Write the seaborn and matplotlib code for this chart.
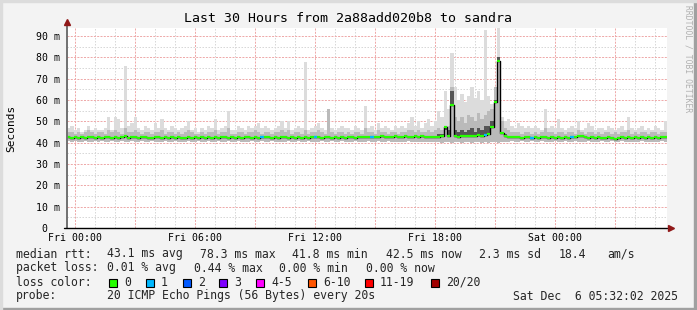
import numpy as np
import pandas as pd
import matplotlib
matplotlib.use("Agg")
import matplotlib.pyplot as plt
from matplotlib.patches import Rectangle
from matplotlib.lines import Line2D
import seaborn as sns

W, H, DPI = 697, 310, 100

# ---- data (10-minute bins, hours relative to Fri 00:00) ----
t_start = -0.4
bin_hours = 1 / 6

median_ms = [
    42.5, 42.3, 42.8, 42.4, 42.6, 42.2, 42.7, 42.5, 42.3, 42.6,
    42.4, 42.8, 42.5, 42.2, 42.6, 42.4, 42.7, 42.9, 42.3, 42.5,
    42.6, 42.3, 42.5, 42.8, 42.2, 42.4, 42.6, 42.5, 42.3, 42.7,
    42.4, 42.6, 42.2, 42.5, 42.1, 42.4, 42.6, 42.3, 42.5, 42.4,
    42.6, 42.3, 42.5, 42.4, 42.7, 42.2, 42.5, 42.6, 42.3, 42.5,
    42.4, 42.6, 42.3, 42.5, 42.7, 42.4, 42.6, 42.3, 42.5, 42.8,
    42.5, 42.3, 42.6, 42.4, 42.5, 42.7, 42.3, 42.5, 42.4, 42.6,
    42.4, 42.6, 42.3, 42.5, 42.8, 42.6, 42.4, 42.5, 42.7, 42.3,
    42.5, 42.4, 42.6, 42.3, 42.5, 42.7, 42.4, 42.6, 42.5, 42.8,
    42.6, 42.8, 42.5, 42.7, 42.9, 42.6, 42.8, 42.7, 43.0, 42.8,
    42.7, 42.9, 42.6, 42.8, 43.0, 42.7, 42.9, 42.6, 42.8, 42.7,
    42.5, 42.6, 42.9, 47.5, 43.0, 57.7, 43.1, 42.8, 43.0, 43.2,
    42.9, 43.3, 43.0, 43.5, 43.2, 43.4, 44.0, 47.5, 59.0, 78.3,
    44.5, 42.9, 42.6, 42.8, 42.5, 42.7, 42.4, 42.6, 42.5, 42.3,
    42.6, 42.4, 42.5, 42.7, 42.3, 42.6, 42.4, 42.5, 42.3, 42.6,
    42.4, 42.6, 42.5, 43.2, 43.0, 42.6, 42.4, 42.5, 42.3, 42.6,
    42.4, 42.2, 42.5, 42.3, 41.8, 42.4, 42.6, 42.3, 42.5, 42.4,
    42.6, 42.3, 42.5, 42.4, 42.6, 42.3, 42.5, 42.4, 42.6, 42.5,
]

smoke_hi = [
    47, 48, 46, 47, 45, 46, 48, 46, 47, 46,
    46, 47, 52, 46, 52, 51, 47, 76, 48, 49,
    52, 47, 46, 48, 47, 46, 49, 47, 51, 47,
    46, 48, 47, 46, 47, 48, 50, 46, 47, 45,
    47, 46, 48, 47, 51, 46, 47, 48, 55, 46,
    46, 48, 47, 46, 48, 47, 48, 49, 47, 48,
    47, 46, 47, 48, 50, 47, 50, 46, 47, 48,
    47, 78, 46, 47, 48, 49, 47, 46, 56, 47,
    46, 47, 48, 47, 47, 46, 48, 47, 46, 57,
    47, 48, 46, 49, 47, 48, 47, 46, 48, 47,
    48, 47, 49, 52, 48, 50, 47, 49, 51, 48,
    50, 55, 52, 64, 56, 82, 66, 60, 63, 59,
    62, 66, 61, 64, 60, 93, 62, 58, 60, 95,
    52, 50, 51, 48, 47, 49, 48, 47, 48, 47,
    48, 47, 46, 56, 47, 48, 47, 51, 47, 46,
    47, 48, 47, 50, 46, 47, 49, 48, 46, 47,
    47, 46, 48, 47, 46, 47, 48, 46, 52, 47,
    46, 47, 48, 46, 47, 46, 48, 47, 46, 50,
]

smoke_mid = [
    45, 45, 44, 45, 44, 45, 46, 45, 44, 45,
    45, 44, 46, 45, 46, 45, 44, 47, 45, 45,
    46, 45, 44, 45, 45, 44, 45, 45, 46, 44,
    45, 45, 44, 45, 44, 45, 46, 45, 44, 44,
    45, 44, 45, 45, 46, 44, 45, 45, 47, 44,
    44, 45, 45, 44, 45, 45, 46, 45, 44, 45,
    45, 44, 45, 45, 46, 45, 46, 44, 45, 45,
    44, 46, 44, 45, 45, 46, 45, 44, 56, 45,
    44, 45, 45, 44, 45, 44, 45, 45, 44, 47,
    45, 45, 44, 46, 45, 45, 44, 45, 45, 44,
    45, 45, 46, 46, 45, 46, 45, 45, 46, 45,
    46, 47, 46, 47, 48, 66, 52, 50, 52, 49,
    53, 52, 50, 54, 51, 53, 55, 56, 66, 80,
    50, 47, 46, 45, 45, 45, 44, 45, 45, 44,
    45, 44, 45, 47, 45, 45, 44, 45, 45, 44,
    45, 45, 44, 46, 45, 44, 45, 45, 44, 45,
    44, 45, 45, 44, 45, 44, 45, 45, 46, 44,
    45, 44, 45, 45, 44, 45, 45, 44, 45, 45,
]

smoke_lo = [
    40.6, 40.4, 40.7, 40.5, 40.3, 40.6, 40.5, 40.4, 40.7, 40.5,
    40.6, 40.3, 40.5, 40.6, 40.4, 40.5, 40.7, 40.4, 40.5, 40.6,
    40.3, 40.5, 40.6, 40.4, 40.5, 40.6, 40.4, 40.5, 40.3, 40.6,
    40.5, 40.4, 40.6, 40.5, 40.3, 40.4, 40.6, 40.5, 40.4, 40.6,
    40.5, 40.3, 40.6, 40.4, 40.5, 40.7, 40.4, 40.5, 40.6, 40.4,
    40.5, 40.6, 40.4, 40.3, 40.5, 40.6, 40.4, 40.5, 40.7, 40.5,
    40.4, 40.6, 40.5, 40.3, 40.5, 40.4, 40.6, 40.5, 40.4, 40.6,
    40.5, 40.4, 40.6, 40.5, 40.3, 40.5, 40.6, 40.4, 40.5, 40.6,
    40.4, 40.5, 40.6, 40.4, 40.5, 40.3, 40.6, 40.5, 40.4, 40.5,
    40.6, 40.5, 40.4, 40.6, 40.5, 40.4, 40.6, 40.5, 40.3, 40.5,
    40.4, 40.5, 40.6, 40.4, 40.5, 40.3, 40.4, 40.5, 40.3, 40.2,
    40.1, 40.2, 40.0, 40.1, 40.2, 40.0, 40.1, 40.2, 40.0, 40.1,
    40.2, 40.0, 40.1, 40.2, 40.0, 40.1, 40.0, 40.2, 40.1, 40.0,
    40.3, 40.4, 40.5, 40.6, 40.4, 40.5, 40.6, 40.4, 40.5, 40.6,
    40.5, 40.4, 40.6, 40.5, 40.3, 40.5, 40.6, 40.4, 40.5, 40.6,
    40.4, 40.5, 40.6, 40.4, 40.5, 40.3, 40.6, 40.5, 40.4, 40.5,
    40.6, 40.5, 40.4, 40.6, 40.5, 40.4, 40.6, 40.5, 40.3, 40.5,
    40.4, 40.5, 40.6, 40.4, 40.5, 40.3, 40.4, 40.5, 40.6, 40.5,
]

core_first_bin = 110
smoke_core = [
    43, 44, 44, 46, 46, 64, 46, 45, 46, 45,
    46, 47, 45, 47, 46, 48, 48, 50, 60, 80,
    45, 44, 43, 43,
]

loss1_bins = [58, 74, 91, 125, 139, 151]

y_ticks = [0, 10, 20, 30, 40, 50, 60, 70, 80, 90]
y_labels = ["0  ", "10 m", "20 m", "30 m", "40 m", "50 m", "60 m", "70 m", "80 m", "90 m"]
x_ticks = [0, 6, 12, 18, 24]
x_labels = ["Fri 00:00", "Fri 06:00", "Fri 12:00", "Fri 18:00", "Sat 00:00"]

title = "Last 30 Hours from 2a88add020b8 to sandra"

loss_names = ["0", "1", "2", "3", "4-5", "6-10", "11-19", "20/20"]
loss_colors = ["#26ff00", "#00b8ff", "#0059ff", "#7e00ff", "#ff00ff",
               "#ff5500", "#ff0000", "#a10000"]
loss_label_px = [124, 161, 198, 234, 271, 323, 380, 446]

row_rtt = [(16, "median rtt:"), (107, "43.1 ms avg"), (200, "78.3 ms max"),
           (292, "41.8 ms min"), (386, "42.5 ms now"), (479, "2.3 ms sd"),
           (559, "18.4"), (607, "am/s")]
row_loss = [(16, "packet loss:"), (107, "0.01 % avg"), (194, "0.44 % max"),
            (279, "0.00 % min"), (366, "0.00 % now")]
row_probe = [(16, "probe:"), (107, "20 ICMP Echo Pings (56 Bytes) every 20s"),
             (513, "Sat Dec  6 05:32:02 2025")]

# ---- style ----
sns.set_style("white")
plt.rcParams["font.family"] = ["DejaVu Sans Mono"]

BG = "#f3f3f3"
fig = plt.figure(figsize=(W / DPI, H / DPI), dpi=DPI, facecolor=BG)

def fx(px):
    return px / W

def fy(py):
    return 1 - py / H

# frame
fig.patches.append(Rectangle((0, 0), 1, 2 / H, transform=fig.transFigure,
                             color="#a0a0a0", zorder=0))
fig.patches.append(Rectangle((1 - 3 / W, 0), 3 / W, 1, transform=fig.transFigure,
                             color="#a0a0a0", zorder=0))
fig.patches.append(Rectangle((0, 1 - 2 / H), 1, 2 / H, transform=fig.transFigure,
                             color="#dcdcdc", zorder=0))
fig.patches.append(Rectangle((0, 0), 2 / W, 1, transform=fig.transFigure,
                             color="#dcdcdc", zorder=0))

ax = fig.add_axes([fx(67), fy(228), fx(600), 200 / H])
ax.set_facecolor("white")

n = len(median_ms)
edges = t_start + bin_hours * np.arange(n + 1)

med = np.asarray(median_ms)
hi = np.asarray(smoke_hi, float)
mid = np.asarray(smoke_mid, float)
lo = np.asarray(smoke_lo, float)
core = np.asarray(smoke_core, float)

def ext(v):
    return np.append(v, v[-1])

ax.fill_between(edges, ext(lo), ext(hi), step="post", color="#dcdcdc", lw=0, zorder=2)
ax.fill_between(edges, ext(lo), ext(mid), step="post", color="#bababa", lw=0, zorder=3)
ce = edges[core_first_bin:core_first_bin + len(core) + 1]
cm = med[core_first_bin:core_first_bin + len(core)]
ax.fill_between(ce, ext(cm), ext(core), step="post", color="#555555", lw=0, zorder=4)

df = pd.DataFrame({"t": edges, "ms": ext(med)})
sns.lineplot(data=df, x="t", y="ms", ax=ax, color="black", lw=1.0,
             drawstyle="steps-post", zorder=5)
ax.hlines(med, edges[:-1], edges[1:], color=loss_colors[0], lw=1.6, zorder=6)
idx = np.asarray(loss1_bins)
ax.hlines(med[idx], edges[idx], edges[idx + 1], color=loss_colors[1], lw=1.6, zorder=7)

ax.set_xlim(t_start, t_start + bin_hours * n)
ax.set_ylim(0, 93.75)
ax.set_xlabel("")
ax.set_ylabel("")

major_x = list(range(0, 30, 3))
ax.set_xticks(major_x)
ax.set_xticklabels([x_labels[x_ticks.index(v)] if v in x_ticks else "" for v in major_x])
ax.set_xticks([h for h in range(0, 30) if h % 3 != 0], minor=True)
ax.set_yticks(y_ticks)
ax.set_yticklabels(y_labels)
ax.set_yticks([5, 15, 25, 35, 45, 55, 65, 75, 85], minor=True)

RED = "#eeaaaa"
GRAY = "#d8d8d8"
ax.set_axisbelow(True)
ax.grid(which="major", color=RED, lw=0.72, linestyle=(0, (2, 1.3)))
ax.grid(which="minor", color=GRAY, lw=0.72, linestyle=(0, (1.5, 1.5)))
ax.tick_params(which="major", length=2.2, width=0.75, color=RED, pad=1.6,
               labelsize=7.1, labelcolor="#000000")
ax.tick_params(axis="y", which="major", pad=3.0)
ax.tick_params(which="minor", length=0)

for s in ax.spines.values():
    s.set_visible(False)

# axes lines with arrows
ax.add_line(Line2D([0, 0], [0, 1.03], transform=ax.transAxes, color="#707070",
                   lw=1.4, clip_on=False, zorder=8))
ax.add_line(Line2D([-0.005, 1.0], [0, 0], transform=ax.transAxes, color="black",
                   lw=1.0, clip_on=False, zorder=8))
ax.plot([0], [1.03], transform=ax.transAxes, marker="^", ms=5, color="#901818",
        clip_on=False, zorder=9)
ax.plot([1.007], [0], transform=ax.transAxes, marker=">", ms=5, color="#901818",
        clip_on=False, zorder=9)

# texts
fig.text(fx(348.5), fy(19), title, ha="center", va="center", fontsize=9.5, color="#000")
fig.text(fx(11), fy(128), "Seconds", ha="center", va="center", rotation=90,
         fontsize=8, color="#000")
fig.text(fx(688), fy(5), "RRDTOOL / TOBI OETIKER", ha="center", va="top",
         rotation=270, fontsize=5.8, color="#b0b0b0")

LEG_FS = 8.3
for x, s in row_rtt:
    fig.text(fx(x), fy(254), s, ha="left", va="center", fontsize=LEG_FS)
for x, s in row_loss:
    fig.text(fx(x), fy(268), s, ha="left", va="center", fontsize=LEG_FS)
fig.text(fx(16), fy(282), "loss color:", ha="left", va="center", fontsize=LEG_FS)
for x, name, col in zip(loss_label_px, loss_names, loss_colors):
    fig.patches.append(Rectangle((fx(x - 15.5), fy(286.5)), 8 / W, 8 / H,
                                 transform=fig.transFigure, facecolor=col,
                                 edgecolor="black", lw=0.8))
    fig.text(fx(x), fy(282), name, ha="left", va="center", fontsize=LEG_FS)
for x, s in row_probe:
    fig.text(fx(x), fy(296), s, ha="left", va="center", fontsize=LEG_FS)

fig.savefig("out.png", dpi=DPI, facecolor=BG)
